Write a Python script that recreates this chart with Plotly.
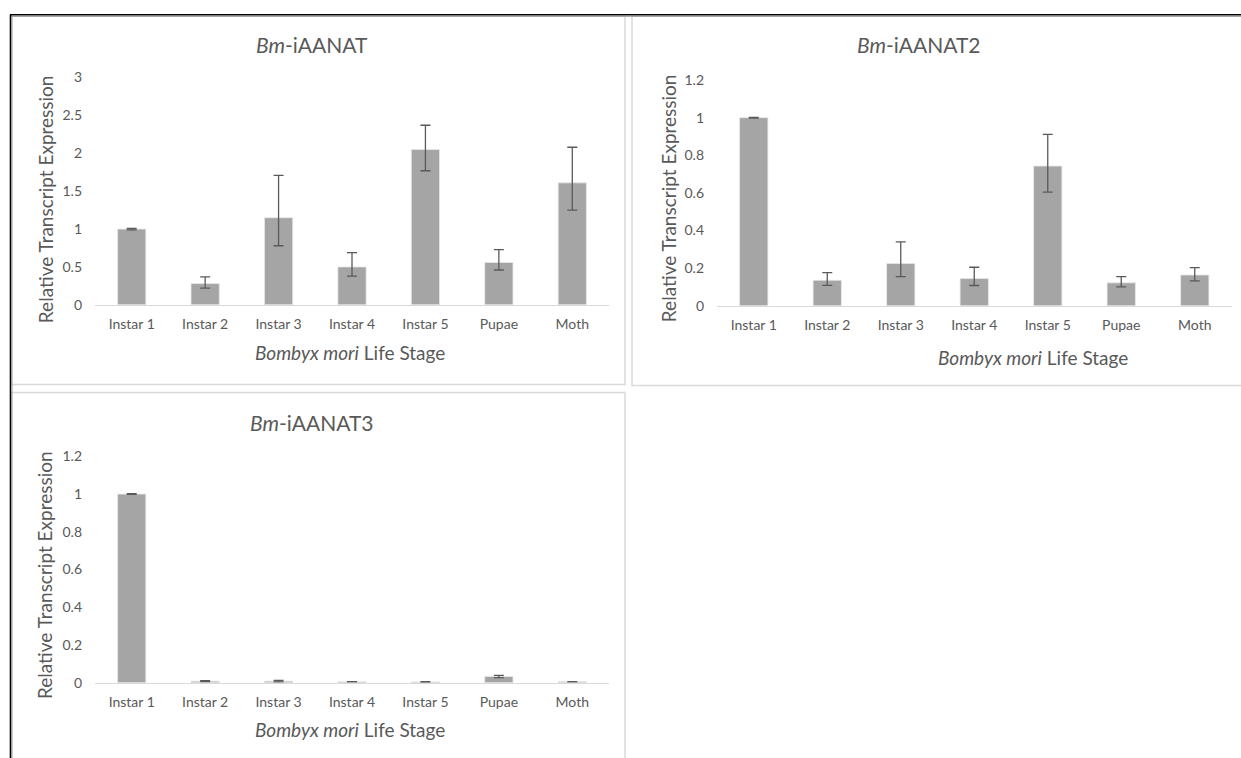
import plotly.graph_objects as go

W, H = 1241, 758

stages = ["Instar 1", "Instar 2", "Instar 3", "Instar 4", "Instar 5", "Pupae", "Moth"]

# Bm-iAANAT
mean_1 = [1.00, 0.28, 1.15, 0.50, 2.05, 0.56, 1.61]
err_up_1 = [0.01, 0.09, 0.56, 0.19, 0.32, 0.17, 0.47]
err_down_1 = [0.01, 0.06, 0.37, 0.12, 0.28, 0.10, 0.36]

# Bm-iAANAT2
mean_2 = [1.00, 0.136, 0.225, 0.145, 0.743, 0.122, 0.164]
err_up_2 = [0.002, 0.040, 0.115, 0.060, 0.168, 0.033, 0.039]
err_down_2 = [0.002, 0.027, 0.070, 0.037, 0.139, 0.021, 0.031]

# Bm-iAANAT3
mean_3 = [1.00, 0.008, 0.008, 0.005, 0.004, 0.033, 0.005]
err_up_3 = [0.002, 0.003, 0.004, 0.001, 0.001, 0.006, 0.001]
err_down_3 = [0.002, 0.003, 0.004, 0.001, 0.001, 0.006, 0.001]

titles = ["Bm-iAANAT", "Bm-iAANAT2", "Bm-iAANAT3"]

FONT = "Lato"
TXT = "#595959"
BAR = "#A5A5A5"
GRID = "#D9D9D9"


def px(x):
    return x / W


def py(y):
    # vertical pixel position (from top) -> paper fraction, with a small
    # correction so the layout sits where intended on the rendered page
    y = (y - 7.25) / 0.9806
    return 1 - y / H


# plot-area boxes in pixels: (left, right, top, bottom)
areas = [
    (95, 609, 76, 304),
    (717, 1231.5, 78.5, 305),
    (95, 609, 456, 683),
]
y_ranges = [[0, 3], [0, 1.2], [0, 1.2]]
y_dticks = [0.5, 0.2, 0.2]
series = [
    (mean_1, err_up_1, err_down_1),
    (mean_2, err_up_2, err_down_2),
    (mean_3, err_up_3, err_down_3),
]

fig = go.Figure()
layout = {}
for i, ((l, r, t, b), (m, eu, ed)) in enumerate(zip(areas, series), start=1):
    sfx = "" if i == 1 else str(i)
    fig.add_trace(go.Bar(
        x=stages, y=m,
        marker=dict(color=BAR, line=dict(color="#E8E8E8", width=0.8)),
        width=0.385,
        error_y=dict(type="data", symmetric=False, array=eu, arrayminus=ed,
                     color="#595959", thickness=1.3, width=5),
        xaxis="x" + sfx, yaxis="y" + sfx, showlegend=False,
    ))
    layout["xaxis" + sfx] = dict(
        domain=[px(l), px(r)], anchor="y" + sfx,
        showline=True, linecolor=GRID, linewidth=1.2, showgrid=False,
        ticks="", ticklabelstandoff=6,
        tickfont=dict(family=FONT, size=14, color=TXT),
        fixedrange=True,
    )
    layout["yaxis" + sfx] = dict(
        domain=[py(b), py(t)], anchor="x" + sfx,
        range=y_ranges[i - 1], dtick=y_dticks[i - 1], tick0=0,
        showline=False, showgrid=False, zeroline=False, ticks="",
        ticklabelstandoff=12,
        tickfont=dict(family=FONT, size=14, color=TXT),
        fixedrange=True,
    )

shapes = []
# chart-area frames
for (x0, x1, y0, y1) in [(11, 625, 14.5, 384), (632, 1245, 14.5, 385), (11, 625, 392, 800)]:
    shapes.append(dict(type="rect", xref="paper", yref="paper",
                       x0=px(x0), x1=px(x1), y0=py(y1), y1=py(y0),
                       line=dict(color=GRID, width=1.5), fillcolor="rgba(0,0,0,0)"))
# outer black border (top and left) with a soft grey edge
shapes += [
    dict(type="line", xref="paper", yref="paper", x0=px(10), x1=1, y0=py(13), y1=py(13),
         line=dict(color="#000000", width=1.6)),
    dict(type="line", xref="paper", yref="paper", x0=px(11.5), x1=1, y0=py(14.6), y1=py(14.6),
         line=dict(color="#9A9A9A", width=1)),
    dict(type="line", xref="paper", yref="paper", x0=px(10.5), x1=px(10.5), y0=-0.05, y1=py(13),
         line=dict(color="#000000", width=1.6)),
    dict(type="line", xref="paper", yref="paper", x0=px(12), x1=px(12), y0=-0.05, y1=py(14.6),
         line=dict(color="#9A9A9A", width=1)),
]

annotations = []
title_pos = [(312, 43), (919, 43), (312, 422)]
xtitle_pos = [(350, 352), (1033, 357), (350, 730)]
ytitle_pos = [(45, 198), (668, 197), (45, 575)]
for k in range(3):
    base = titles[k].split("-", 1)
    annotations.append(dict(
        text="<i>%s</i>-%s" % (base[0], base[1]), xref="paper", yref="paper",
        x=px(title_pos[k][0]), y=py(title_pos[k][1]), xanchor="center", yanchor="middle",
        showarrow=False, font=dict(family=FONT, size=21, color=TXT)))
    annotations.append(dict(
        text="<i>Bombyx mori</i> Life Stage", xref="paper", yref="paper",
        x=px(xtitle_pos[k][0]), y=py(xtitle_pos[k][1]), xanchor="center", yanchor="middle",
        showarrow=False, font=dict(family=FONT, size=19, color=TXT)))
    annotations.append(dict(
        text="Relative Transcript Expression", xref="paper", yref="paper",
        x=px(ytitle_pos[k][0]), y=py(ytitle_pos[k][1]), xanchor="center", yanchor="middle",
        textangle=-90, showarrow=False, font=dict(family=FONT, size=19, color=TXT)))

fig.update_layout(
    width=W, height=H, margin=dict(l=0, r=0, t=0, b=0),
    paper_bgcolor="white", plot_bgcolor="white",
    shapes=shapes, annotations=annotations, bargap=0.6,
    **layout,
)

fig.write_html("out.html", config={"displayModeBar": False})
